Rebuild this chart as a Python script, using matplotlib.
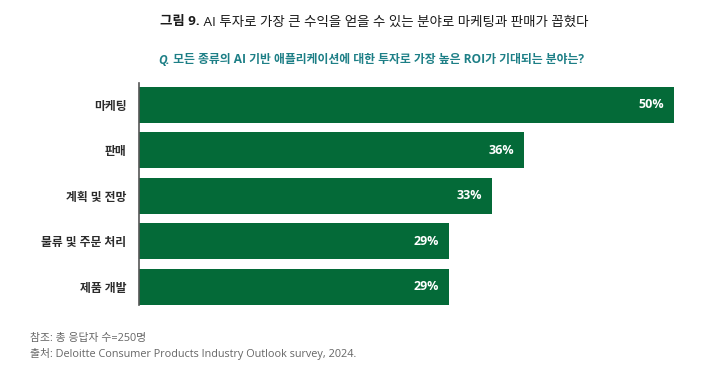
import matplotlib
matplotlib.use("Agg")
import matplotlib.pyplot as plt

plt.rcParams['font.family'] = ['Open Sans', 'Noto Sans CJK KR', 'DejaVu Sans']

categories = ["마케팅", "판매", "계획 및 전망", "물류 및 주문 처리", "제품 개발"]
values = [50, 36, 33, 29, 29]
value_labels = ["50%", "36%", "33%", "29%", "29%"]

title_bold = "그림 9."
title_rest = " AI 투자로 가장 큰 수익을 얻을 수 있는 분야로 마케팅과 판매가 꼽혔다"
sub_bold = "Q."
sub_rest = " 모든 종류의 AI 기반 애플리케이션에 대한 투자로 가장 높은 ROI가 기대되는 분야는?"
note1 = "참조: 총 응답자 수=250명"
note2 = "출처: Deloitte Consumer Products Industry Outlook survey, 2024."

W, H = 702, 371
fig = plt.figure(figsize=(W / 100, H / 100), dpi=100)
fig.patch.set_facecolor("white")

left, right, top, bottom = 139, 674, 83, 305
ax = fig.add_axes([left / W, 1 - bottom / H, (right - left) / W, (bottom - top) / H])

green = "#046A38"
ypos = list(range(len(categories)))
ax.barh(ypos, values, height=0.79, color=green, zorder=2)
ax.set_xlim(0, 50)
ax.set_ylim(4.40, -0.48)
ax.set_yticks(ypos)
ax.set_yticklabels(categories, fontsize=8.5, fontweight="bold", color="#2b2b2b")
ax.tick_params(axis="y", length=0, pad=9)
ax.set_xticks([])
for s in ["top", "right", "bottom"]:
    ax.spines[s].set_visible(False)
ax.spines["left"].set_color("#555555")
ax.spines["left"].set_linewidth(1.2)
ax.spines["left"].set_zorder(3)

for y, v, lab in zip(ypos, values, value_labels):
    ax.annotate(lab, xy=(v, y), xytext=(-7.5, 0), textcoords="offset points",
                ha="right", va="center", color="white", fontsize=9, fontweight="bold")

fig.canvas.draw()
renderer = fig.canvas.get_renderer()

def two_part(x, y, t1, t2, color, size, kw1, kw2):
    a = fig.text(x / W, 1 - y / H, t1, color=color, fontsize=size, va="center", ha="left", **kw1)
    bb = a.get_window_extent(renderer=renderer)
    fig.text(bb.x1 / W, 1 - y / H, t2, color=color, fontsize=size, va="center", ha="left", **kw2)

two_part(160, 22, title_bold, title_rest, "#1a1a1a", 9.7,
         dict(fontweight="bold"), dict())
two_part(158, 60, sub_bold, sub_rest, "#1d7f86", 8.55,
         dict(fontweight="bold", fontstyle="italic"), dict(fontweight="bold"))

fig.text(30 / W, 1 - 338 / H, note1, color="#666666", fontsize=7.8, va="center", ha="left")
fig.text(30 / W, 1 - 354 / H, note2, color="#666666", fontsize=7.8, va="center", ha="left")

fig.savefig("out.png", dpi=100, facecolor="white")
